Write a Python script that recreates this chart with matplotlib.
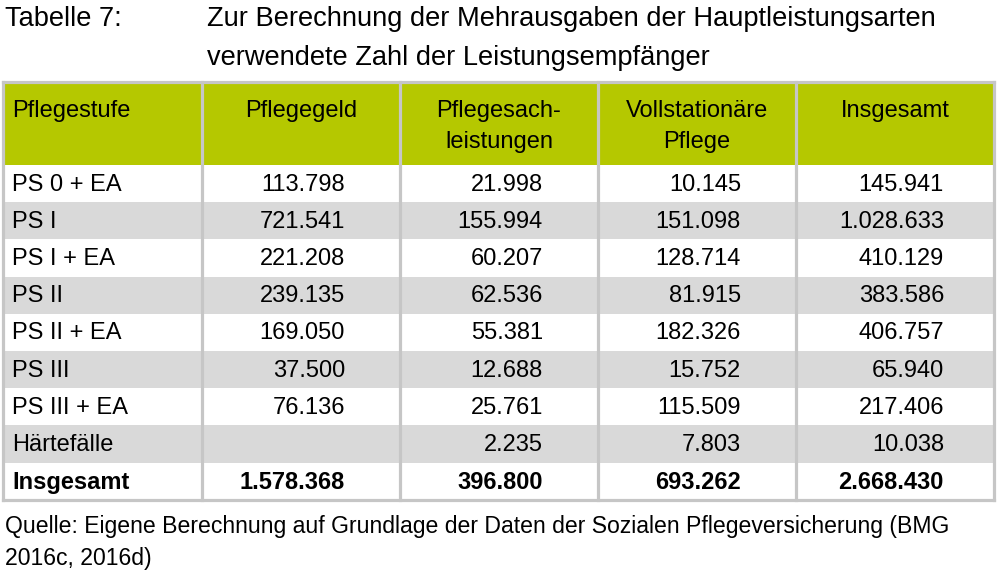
#!/usr/bin/env python3
from matplotlib import pyplot as plt
from matplotlib.patches import Rectangle

plt.rcParams['font.family'] = ['Liberation Sans', 'DejaVu Sans']

# Tabellendaten
pflegestufen = ['PS 0 + EA', 'PS I', 'PS I + EA', 'PS II', 'PS II + EA',
                'PS III', 'PS III + EA', 'Härtefälle', 'Insgesamt']
pflegegeld = ['113.798', '721.541', '221.208', '239.135', '169.050',
              '37.500', '76.136', '', '1.578.368']
sachleistungen = ['21.998', '155.994', '60.207', '62.536', '55.381',
                  '12.688', '25.761', '2.235', '396.800']
vollstationaer = ['10.145', '151.098', '128.714', '81.915', '182.326',
                  '15.752', '115.509', '7.803', '693.262']
insgesamt = ['145.941', '1.028.633', '410.129', '383.586', '406.757',
             '65.940', '217.406', '10.038', '2.668.430']
kopfzeile = ['Pflegestufe', 'Pflegegeld', 'Pflegesach-\nleistungen',
             'Vollstationäre\nPflege', 'Insgesamt']

titel_nr = 'Tabelle 7:'
titel = ['Zur Berechnung der Mehrausgaben der Hauptleistungsarten',
         'verwendete Zahl der Leistungsempfänger']
quelle = ['Quelle: Eigene Berechnung auf Grundlage der Daten der Sozialen Pflegeversicherung (BMG',
          '2016c, 2016d)']

GRUEN = '#b5c800'
GRAU = '#d9d9d9'
LINIE = '#c6c6c6'
FS = 17

fig = plt.figure(figsize=(9.98, 5.71), dpi=100)
ax = fig.add_axes([0, 0, 1, 1])
ax.set_xlim(0, 998)
ax.set_ylim(571, 0)
ax.axis('off')

# Spaltengrenzen und Zeilenhöhe (Pixel)
col_x = [3, 202, 400, 598, 796, 994]
top, head_bottom, row_h = 82, 165, 37.2

# Kopfzeile
ax.add_patch(Rectangle((col_x[0], top), col_x[-1] - col_x[0], head_bottom - top,
                       facecolor=GRUEN, edgecolor='none'))
for j, txt in enumerate(kopfzeile):
    for k, zeile in enumerate(txt.split('\n')):
        y = 111 + k * 31
        if j == 0:
            ax.text(col_x[0] + 9, y, zeile, fontsize=FS, ha='left', va='center')
        else:
            cx = (col_x[j] + col_x[j + 1]) / 2
            ax.text(cx, y, zeile, fontsize=FS, ha='center', va='center')

# Datenzeilen
spalten = [pflegegeld, sachleistungen, vollstationaer, insgesamt]
pads = [55, 55, 55, 50]
for i, label in enumerate(pflegestufen):
    y0 = head_bottom + i * row_h
    yc = y0 + row_h / 2 + 1
    farbe = GRAU if i % 2 == 1 else 'white'
    ax.add_patch(Rectangle((col_x[0], y0), col_x[-1] - col_x[0], row_h,
                           facecolor=farbe, edgecolor='none'))
    gewicht = 'bold' if label == 'Insgesamt' else 'normal'
    ax.text(col_x[0] + 9, yc, label, fontsize=FS, ha='left', va='center',
            fontweight=gewicht)
    for j, werte in enumerate(spalten):
        ax.text(col_x[j + 2] - pads[j], yc, werte[i], fontsize=FS, ha='right',
                va='center', fontweight=gewicht)

bottom = head_bottom + len(pflegestufen) * row_h

# Rahmen und senkrechte Linien
for x in col_x:
    ax.plot([x, x], [top, bottom], color=LINIE, lw=2.3, solid_capstyle='projecting')
ax.plot([col_x[0], col_x[-1]], [top, top], color=LINIE, lw=2.3)
ax.plot([col_x[0], col_x[-1]], [bottom, bottom], color=LINIE, lw=2.3)

# Titel und Quelle
ax.text(5, 19, titel_nr, fontsize=19.6, ha='left', va='center')
for k, zeile in enumerate(titel):
    ax.text(207, 19 + k * 39, zeile, fontsize=19.6, ha='left', va='center')
for k, zeile in enumerate(quelle):
    ax.text(5, 526 + k * 33, zeile, fontsize=16.6, ha='left', va='center')

fig.savefig('out.png', dpi=100)
